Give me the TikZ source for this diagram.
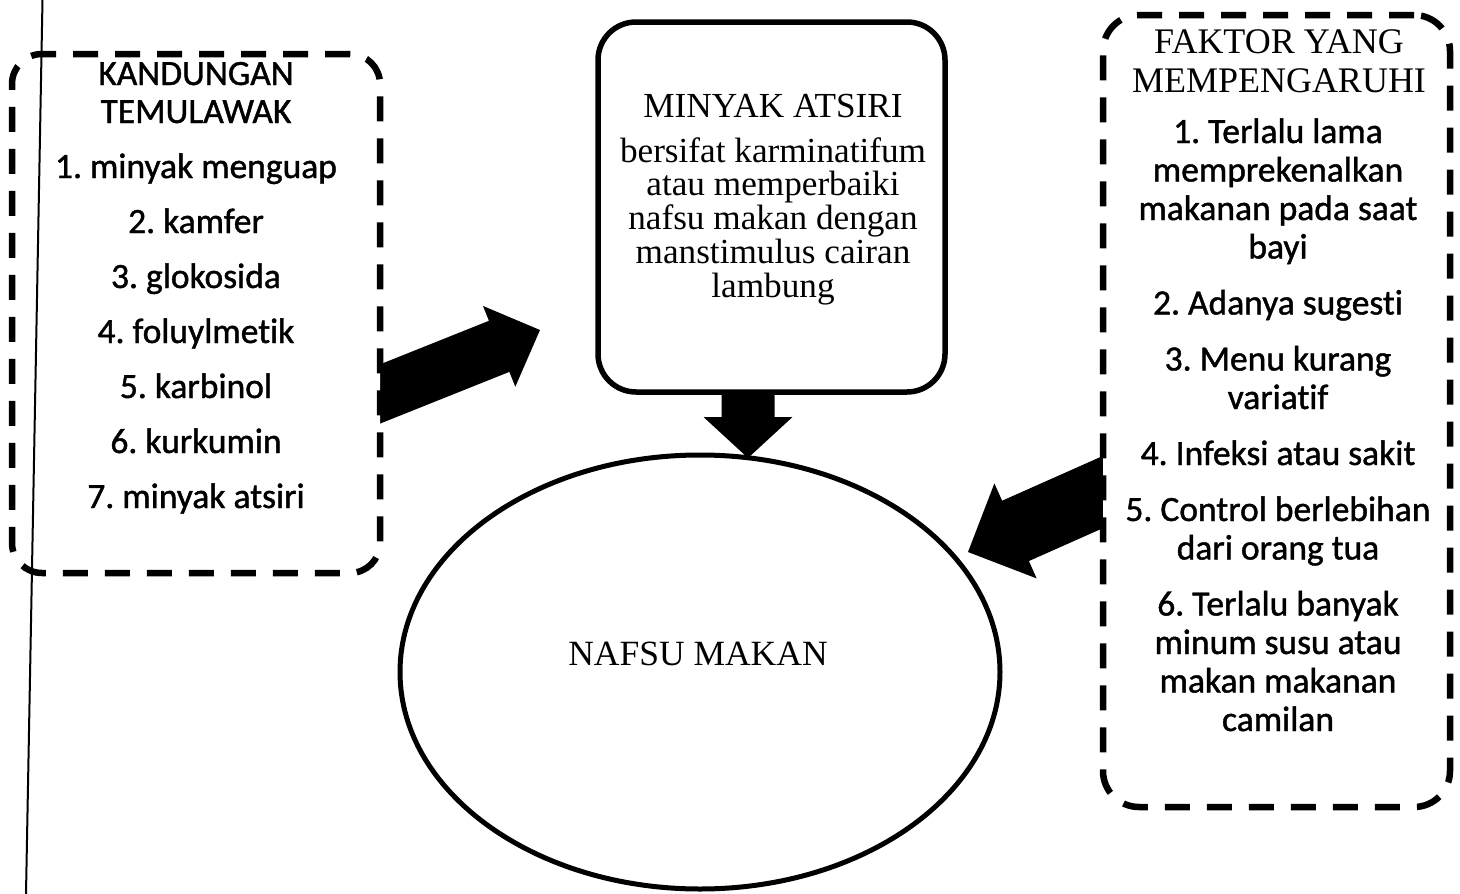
\documentclass[tikz,border=0pt]{standalone}
\usepackage{fontspec}
\setmainfont{Liberation Serif}
\newfontfamily\calfont[RawFeature=-liga,FakeBold=1.2]{Carlito}
\usetikzlibrary{calc,shapes.geometric}
\pgfdeclarelayer{background}
\pgfsetlayers{background,main}
\frenchspacing
% #1 name, #2 start, #3 end, #4 shaft half width, #5 head half width, #6 head length
\newcommand\blockarrow[6]{%
  \coordinate (#1b) at ($(#3)!#6!(#2)$);
  \fill[arrowfill] ($(#2)!#4!90:(#3)$) -- ($(#1b)!#4!90:(#3)$) -- ($(#1b)!#5!90:(#3)$) -- (#3)
    -- ($(#1b)!#5!-90:(#3)$) -- ($(#1b)!#4!-90:(#3)$) -- ($(#2)!#4!-90:(#3)$) -- cycle;
}
\tikzset{
  dashbox/.style={draw, line width=6.5pt, dash pattern=on 25pt off 17pt, rounded corners=30pt, fill=white, inner sep=0pt},
  solidbox/.style={draw, line width=5.5pt, rounded corners=38pt, fill=white, inner sep=0pt},
  ellbox/.style={draw, ellipse, line width=5pt, fill=white, inner sep=0pt},
  sanstext/.style={font=\frenchspacing\calfont\fontsize{35.5}{38}\selectfont, align=center, inner sep=0pt},
  seriftext/.style={font=\frenchspacing\fontsize{35.5}{39}\selectfont, align=center, inner sep=0pt},
  arrowfill/.style={fill=black},
}
\begin{document}
\begin{tikzpicture}[x=1pt,y=-1pt]
\useasboundingbox (0,0) rectangle (1460,894);
% boxes
\node[dashbox, minimum width=368pt, minimum height=519pt] (kbox) at (196,313.5) {};
\node[solidbox, minimum width=347pt, minimum height=370pt] (mbox) at (771.5,207) {};
\node[dashbox, rounded corners=36pt, minimum width=347pt, minimum height=792pt] (fbox) at (1276.5,411) {};
\node[ellbox, minimum width=600pt, minimum height=434pt] (nafsu) at (700,672) {};
% texts (anchor=base is the baseline of the last line)
\node[sanstext, anchor=base] (ktext) at (196,508) {KANDUNGAN\\TEMULAWAK\\[17pt]1. minyak menguap\\[17pt]2. kamfer\\[17pt]3. glokosida\\[17pt]4. foluylmetik\\[17pt]5. karbinol\\[17pt]6. kurkumin\\[17pt]7. minyak atsiri};
\node[seriftext, font=\fontsize{35.2}{33.75}\selectfont, anchor=base] (mtext) at (773,297) {MINYAK ATSIRI\\[11.25pt]bersifat karminatifum\\atau memperbaiki\\nafsu makan dengan\\manstimulus cairan\\lambung};
\node[seriftext, font=\fontsize{36}{39}\selectfont, anchor=base] (ftitle) at (1279,92) {FAKTOR YANG\\MEMPENGARUHI};
\node[sanstext, font=\calfont\fontsize{35.5}{38.5}\selectfont, anchor=base] (ftext) at (1278,731) {1. Terlalu lama\\memprekenalkan\\makanan pada saat\\bayi\\[17.5pt]2. Adanya sugesti\\[17.5pt]3. Menu kurang\\variatif\\[17.5pt]4. Infeksi atau sakit\\[17.5pt]5. Control berlebihan\\dari orang tua\\[17.5pt]6. Terlalu banyak\\minum susu atau\\makan makanan\\camilan};
\node[seriftext, anchor=base] (ntext) at (698,665) {NAFSU MAKAN};
% arrow end points
\coordinate (a1s) at (350,406);
\coordinate (a1e) at (540,330);
\coordinate (a2s) at (748,370);
\coordinate (a2e) at (748,458);
\coordinate (a3s) at (1130,480);
\coordinate (a3e) at (968,552);
\begin{pgfonlayer}{background}
\fill[white] (0,0) rectangle (1460,894);
\blockarrow{aone}{a1s}{a1e}{27.5pt}{43.5pt}{44pt}
\blockarrow{atwo}{a2s}{a2e}{26.5pt}{44.5pt}{41pt}
\blockarrow{athree}{a3s}{a3e}{33pt}{52pt}{52pt}
\end{pgfonlayer}
% margin line
\coordinate (vtop) at (42.5,0);
\coordinate (vbot) at (26,894);
\draw[line width=2pt] (vtop) -- (vbot);
\end{tikzpicture}
\end{document}
